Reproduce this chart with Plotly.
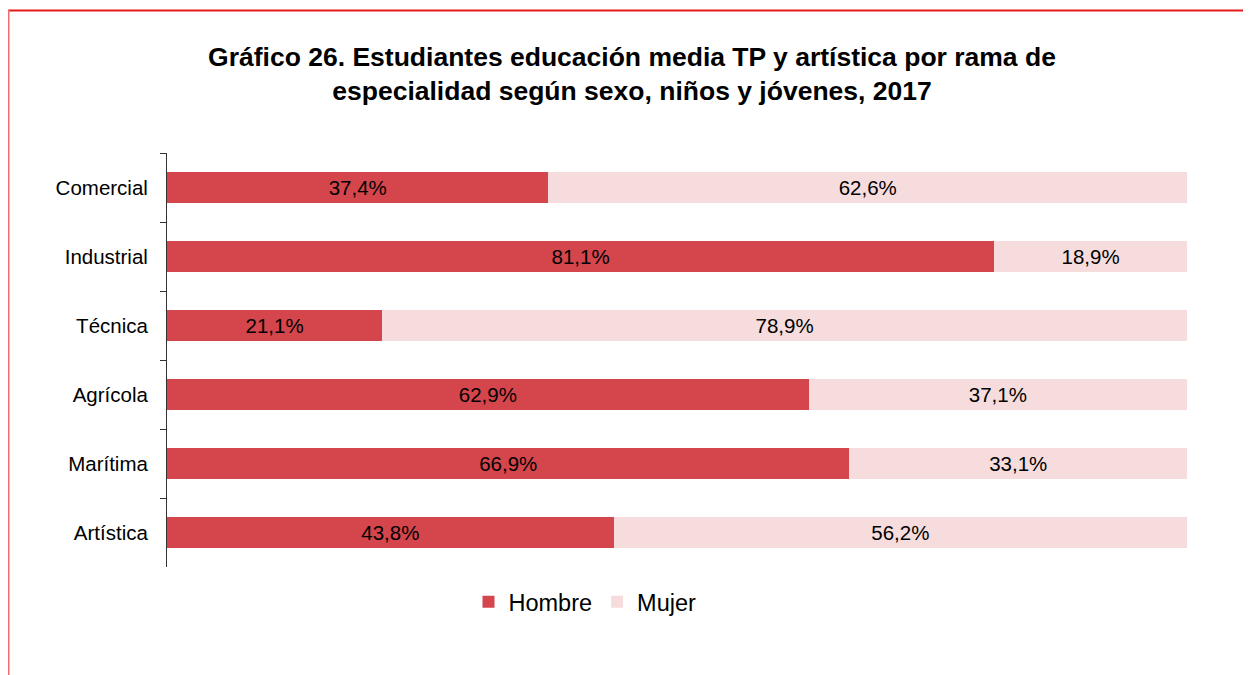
import plotly.graph_objects as go

categorias = ["Comercial", "Industrial", "Técnica", "Agrícola", "Marítima", "Artística"]
hombre = [37.4, 81.1, 21.1, 62.9, 66.9, 43.8]
mujer = [62.6, 18.9, 78.9, 37.1, 33.1, 56.2]

OFF = 8  # page body offset
W, H = 1251, 675
L, R, T, B = 167 - OFF, 1187 - OFF, 153 - OFF, 567 - OFF

FONT = "Liberation Sans, Arial"

fig = go.Figure()
fig.add_trace(go.Bar(y=categorias, x=hombre, name="Hombre", orientation="h",
                     marker=dict(color="#D4454C", line=dict(width=0)),
                     texttemplate="%{x:.1f}%", textposition="inside", insidetextanchor="middle",
                     textfont=dict(color="#000000", size=20.5, family=FONT)))
fig.add_trace(go.Bar(y=categorias, x=mujer, name="Mujer", orientation="h",
                     marker=dict(color="#F6DCDD", line=dict(width=0)),
                     texttemplate="%{x:.1f}%", textposition="inside", insidetextanchor="middle",
                     textfont=dict(color="#000000", size=20.5, family=FONT)))

def px_x(p):
    return (p - OFF - L) / (R - L)

def px_y(p):
    return (B - (p - OFF)) / (B - T)

fig.update_layout(
    width=W, height=H,
    barmode="stack", bargap=0.565,
    separators=",.",
    plot_bgcolor="white", paper_bgcolor="white",
    margin=dict(l=L, r=W - R, t=T, b=H - B),
    font=dict(family=FONT, size=20.5, color="#000000"),
    title=dict(text="<b>Gráfico 26. Estudiantes educación media TP y artística por rama de<br>especialidad según sexo, niños y jóvenes, 2017</b>",
               x=(632 - OFF) / W, xanchor="center", y=1 - (66 - OFF) / H, yanchor="middle",
               font=dict(size=26.5, family=FONT, color="#000000")),
    xaxis=dict(range=[0, 100], visible=False, showgrid=False, zeroline=False),
    yaxis=dict(autorange="reversed", showline=True, linecolor="#333333", linewidth=1,
               ticks="outside", tickson="boundaries", ticklen=6, tickcolor="#333333",
               showgrid=False, ticklabelstandoff=14, tickfont=dict(size=20.5)),
    legend=dict(orientation="h", x=px_x(585), xanchor="center", y=px_y(602), yanchor="middle",
                font=dict(size=23.5), itemwidth=30, traceorder="normal"),
    showlegend=True,
    shapes=[
        dict(type="line", xref="paper", yref="paper", x0=px_x(8), x1=px_x(1270), y0=px_y(10.5), y1=px_y(10.5),
             line=dict(color="#E3191B", width=2)),
        dict(type="line", xref="paper", yref="paper", x0=px_x(8.5), x1=px_x(8.5), y0=px_y(10), y1=px_y(700),
             line=dict(color="#E87070", width=2)),
    ],
)

fig.write_html("out.html")
